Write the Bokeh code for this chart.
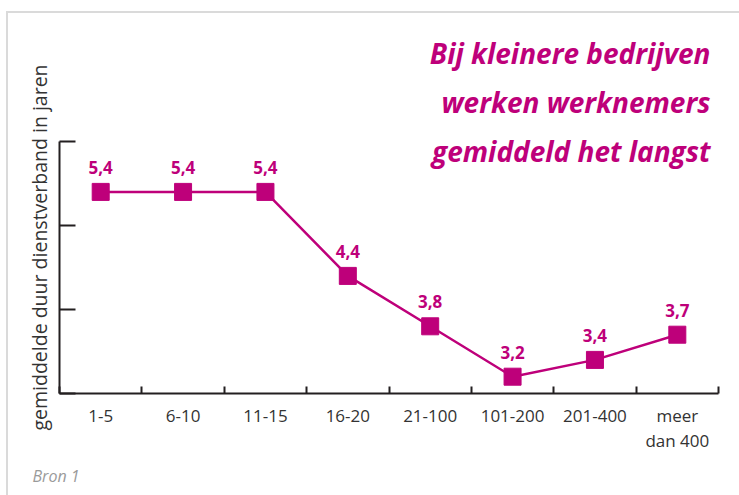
import math
from bokeh.plotting import figure
from bokeh.models import (Range1d, LinearAxis, FixedTicker, ColumnDataSource,
                          LabelSet, Label, Title)
from bokeh.core.properties import value
from bokeh.embed import file_html
from bokeh.resources import INLINE

# ---- data ----
categories = ["1-5", "6-10", "11-15", "16-20", "21-100", "101-200", "201-400", "meer\ndan 400"]
values = [5.4, 5.4, 5.4, 4.4, 3.8, 3.2, 3.4, 3.7]
y_ticks = [3, 4, 5, 6]
title_lines = ["Bij kleinere bedrijven", "werken werknemers", "gemiddeld het langst"]
y_label = "gemiddelde duur dienstverband in jaren"
source_note = "Bron 1"

MAGENTA = "#BE007A"
AXIS = "#231F20"
TEXT = "#333333"
FONT = "Open Sans"

n = len(categories)
pos = [i + 1 for i in range(n)]          # category slots on the x scale

W, H = 739, 495
FRAME_BOTTOM = 393          # px from top of canvas
PX_PER_UNIT = 84
y_top = y_ticks[0] + FRAME_BOTTOM / PX_PER_UNIT

p = figure(width=W, height=H, output_backend="svg", toolbar_location=None,
           x_range=Range1d(0.5, n + 0.5), y_range=Range1d(y_ticks[0], y_top),
           x_axis_type=None, y_axis_type=None,
           min_border_left=59, min_border_right=21, min_border_top=0,
           min_border_bottom=H - FRAME_BOTTOM)
p.outline_line_color = None
p.grid.visible = False
p.background_fill_color = None
p.border_fill_color = None
p.styles = {
    "background": ("linear-gradient(#DADADA,#DADADA) 6px 11px / 2px 100% no-repeat, "
                   "linear-gradient(#DADADA,#DADADA) 6px 11px / 100% 2px no-repeat, white"),
}

# bottom axis: labels at category centres, ticks at category boundaries
xax = LinearAxis(ticker=FixedTicker(ticks=pos, minor_ticks=[x - 0.5 for x in pos] + [n + 0.5]),
                 major_label_overrides={x: c for x, c in zip(pos, categories)})
xax.axis_line_color = AXIS
xax.axis_line_width = 2
xax.major_tick_in = 0
xax.major_tick_out = 0
xax.minor_tick_in = 7
xax.minor_tick_out = 0
xax.minor_tick_line_color = AXIS
xax.minor_tick_line_width = 2
xax.major_label_text_font = FONT
xax.major_label_text_font_size = "17px"
xax.major_label_text_color = TEXT
xax.major_label_text_line_height = 1.1
xax.major_label_standoff = 10
p.add_layout(xax, "below")

# left axis: unlabeled inward ticks (drawn as minor ticks so no tick labels)
yax = LinearAxis(ticker=FixedTicker(ticks=[], minor_ticks=y_ticks),
                 bounds=(y_ticks[0], y_ticks[-1]))
yax.axis_line_color = AXIS
yax.axis_line_width = 2
yax.major_tick_line_color = None
yax.minor_tick_in = 16
yax.minor_tick_out = 0
yax.minor_tick_line_color = AXIS
yax.minor_tick_line_width = 2
yax.major_label_standoff = 0
p.add_layout(yax, "left")

# y-axis title: starts below the frame bottom and runs upward
p.add_layout(Title(text=y_label, align="left", offset=-37, standoff=14,
                   text_font=FONT, text_font_size="19.5px", text_font_style="normal",
                   text_color=TEXT), "left")

p.add_layout(Title(text=source_note, align="left", offset=-27, standoff=16,
                   text_font=FONT, text_font_size="16px", text_font_style="italic",
                   text_color="#9A9A9A"), "below")

src = ColumnDataSource(dict(x=pos, y=values, cat=categories,
                            lbl=[f"{v:.1f}".replace(".", ",") for v in values]))
p.line("x", "y", source=src, line_color=MAGENTA, line_width=2.5)
p.scatter("x", "y", source=src, marker="square", size=17,
          fill_color=MAGENTA, line_color=MAGENTA)
p.add_layout(LabelSet(x="x", y="y", text="lbl", source=src, y_offset=18,
                      text_align="center", text_baseline="alphabetic",
                      text_font=value(FONT), text_font_style="bold",
                      text_font_size="17px", text_color=MAGENTA))

# title block (screen units relative to frame: x from left, y from bottom)
for i, t in enumerate(title_lines):
    p.add_layout(Label(x=651, y=341 - 49 * i, x_units="screen", y_units="screen",
                       text=t, text_align="right", text_baseline="middle",
                       text_font=FONT, text_font_style="bold italic",
                       text_font_size="28px", text_color=MAGENTA))

open("out.html", "w").write(file_html(p, INLINE))
